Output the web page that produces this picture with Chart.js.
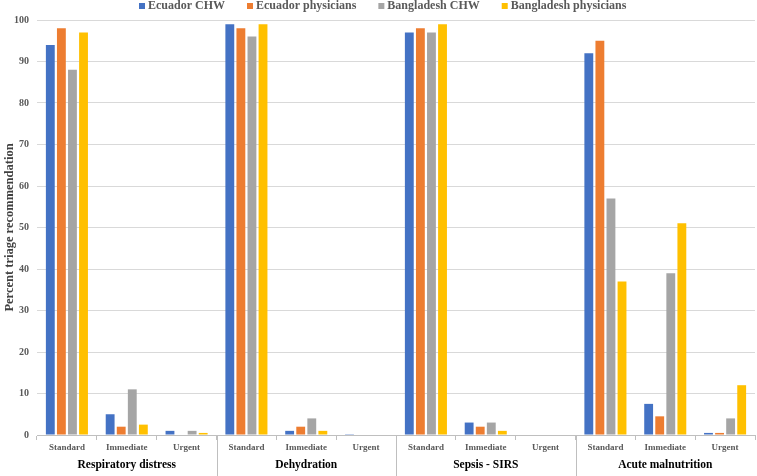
<!DOCTYPE html>
<html>
<head>
<meta charset="utf-8">
<script src="https://cdn.jsdelivr.net/npm/chart.js@4/dist/chart.umd.min.js"></script>
<style>
  html, body { margin: 0; padding: 0; background: #fff; }
  #wrap { width: 757px; height: 476px; position: relative; }
</style>
</head>
<body>
<div id="wrap"><canvas id="c" width="757" height="476"></canvas></div>
<script>
const subCategories = ["Standard", "Immediate", "Urgent", "Standard", "Immediate", "Urgent", "Standard", "Immediate", "Urgent", "Standard", "Immediate", "Urgent"];
const groups = ["Respiratory distress", "Dehydration", "Sepsis - SIRS", "Acute malnutrition"];
const seriesNames = ["Ecuador CHW", "Ecuador physicians", "Bangladesh CHW", "Bangladesh physicians"];
const ecuadorCHW = [94, 5, 1, 99, 1, 0.2, 97, 3, 0, 92, 7.5, 0.5];
const ecuadorPhys = [98, 2, 0, 98, 2, 0, 98, 2, 0, 95, 4.5, 0.5];
const bangladeshCHW = [88, 11, 1, 96, 4, 0, 97, 3, 0, 57, 39, 4];
const bangladeshPhys = [97, 2.5, 0.5, 99, 1, 0, 99, 1, 0, 37, 51, 12];
const yTicks = [0, 10, 20, 30, 40, 50, 60, 70, 80, 90, 100];
const colors = ["#4472C4", "#ED7D31", "#A5A5A5", "#FFC000"];

const serif = "'Liberation Serif', 'Times New Roman', serif";

const groupPlugin = {
  id: 'groupLabels',
  afterDraw(chart) {
    const ctx = chart.ctx;
    const x = chart.scales.x;
    const bottom = chart.chartArea.bottom;
    ctx.save();
    const n = subCategories.length;
    const per = n / groups.length;
    const half = (x.getPixelForValue(1) - x.getPixelForValue(0)) / 2;
    ctx.strokeStyle = '#bfbfbf';
    ctx.lineWidth = 1;
    for (let g = 1; g < groups.length; g++) {
      const px = Math.round(x.getPixelForValue(g * per) - half) + 0.5;
      ctx.beginPath();
      ctx.moveTo(px, bottom);
      ctx.lineTo(px, 476);
      ctx.stroke();
    }
    ctx.fillStyle = '#000';
    ctx.font = "bold 11.5px " + serif;
    ctx.textAlign = 'center';
    ctx.textBaseline = 'middle';
    groups.forEach((g, i) => {
      const cx = (x.getPixelForValue(i * per) + x.getPixelForValue(i * per + per - 1)) / 2;
      ctx.fillText(g, cx, 465);
    });

    // legend
    ctx.font = "bold 12px " + serif;
    ctx.textAlign = 'left';
    ctx.textBaseline = 'middle';
    const box = 6, gapText = 3, gapItem = 22;
    const widths = seriesNames.map(s => box + gapText + ctx.measureText(s).width);
    const total = widths.reduce((a, b) => a + b, 0) + gapItem * (seriesNames.length - 1);
    let lx = 139;
    const ly = 6;
    seriesNames.forEach((s, i) => {
      ctx.fillStyle = colors[i];
      ctx.fillRect(lx, ly - 3, box, box);
      ctx.fillStyle = '#595959';
      ctx.fillText(s, lx + box + gapText, ly);
      lx += widths[i] + gapItem;
    });
    ctx.restore();
  }
};

new Chart(document.getElementById('c'), {
  type: 'bar',
  data: {
    labels: subCategories,
    datasets: [
      { label: seriesNames[0], data: ecuadorCHW, backgroundColor: colors[0] },
      { label: seriesNames[1], data: ecuadorPhys, backgroundColor: colors[1] },
      { label: seriesNames[2], data: bangladeshCHW, backgroundColor: colors[2] },
      { label: seriesNames[3], data: bangladeshPhys, backgroundColor: colors[3] }
    ]
  },
  options: {
    responsive: false,
    animation: false,
    devicePixelRatio: 1,
    layout: { padding: { left: 0, right: 2, top: 20, bottom: 0 } },
    datasets: { bar: { categoryPercentage: 0.74, barPercentage: 0.8 } },
    plugins: {
      legend: { display: false },
      tooltip: { enabled: false }
    },
    scales: {
      x: {
        grid: { display: true, drawOnChartArea: false, offset: true, tickLength: 5, color: '#bfbfbf' },
        border: { display: true, color: '#bfbfbf' },
        ticks: { color: '#595959', font: { family: serif, size: 9, weight: 'bold' }, padding: 2, maxRotation: 0, autoSkip: false },
        afterFit(s) { s.height = 41; }
      },
      y: {
        min: 0, max: 100,
        afterBuildTicks(s) { s.ticks = yTicks.map(v => ({ value: v })); },
        grid: { color: '#d9d9d9', drawTicks: false },
        border: { display: false },
        ticks: { color: '#595959', font: { family: serif, size: 10, weight: 'bold' }, padding: 8 },
        title: { display: true, text: 'Percent triage recommendation', color: '#404040', font: { family: serif, size: 12.5, weight: 'bold' }, padding: 2 },
        afterFit(s) { s.width = 37; }
      }
    }
  },
  plugins: [groupPlugin]
});
</script>
</body>
</html>
